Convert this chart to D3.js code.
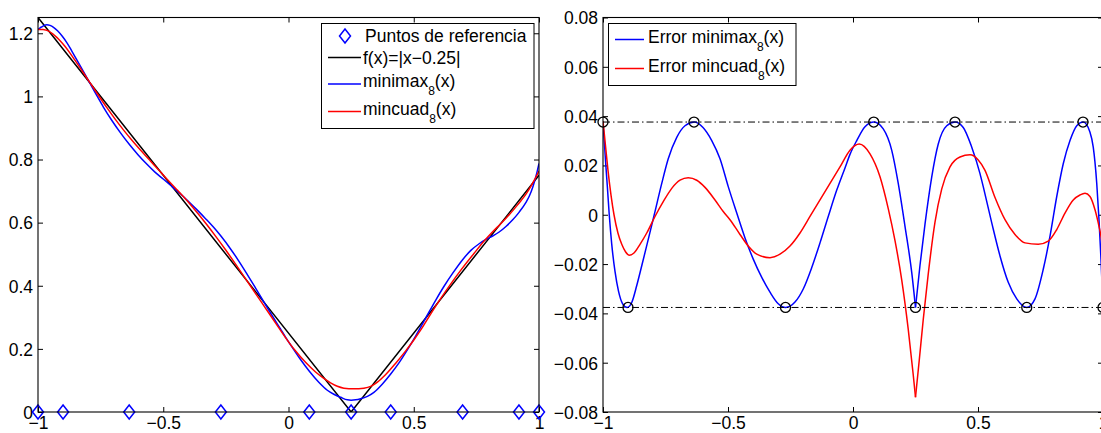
<!DOCTYPE html>
<html><head><meta charset="utf-8">
<script src="https://cdn.jsdelivr.net/npm/d3@7"></script>
<style>
body{margin:0;background:#fff;overflow:hidden;}
svg{display:block;font-family:"Liberation Sans",Arial,Helvetica,sans-serif;}
</style></head><body>
<svg id="c" width="1101" height="433"></svg>
<script>
// ---------------- data ----------------
const xTicks = [-1, -0.5, 0, 0.5, 1];
const yTicksLeft = [0, 0.2, 0.4, 0.6, 0.8, 1, 1.2];
const yTicksRight = [-0.08, -0.06, -0.04, -0.02, 0, 0.02, 0.04, 0.06, 0.08];

const fX = [-1, 0.25, 1];
const fY = [1.25, 0, 0.75];

const refX = [-1, -0.90, -0.636, -0.27, 0.083, 0.25, 0.408, 0.695, 0.92, 1];
const refY = [0, 0, 0, 0, 0, 0, 0, 0, 0, 0];
const refErr = [0.0376, -0.0376, 0.0376, -0.0376, 0.0376, -0.0376, 0.0376, -0.0376, 0.0376, -0.0376];
const levelLines = [0.0376, -0.0376];

const minimaxX = [-1, -0.995, -0.99, -0.983, -0.975, -0.965, -0.952, -0.938, -0.922, -0.903, -0.885, -0.865, -0.845, -0.819, -0.795, -0.765, -0.739, -0.705, -0.672, -0.635, -0.6, -0.565, -0.532, -0.499, -0.465, -0.432, -0.399, -0.365, -0.332, -0.299, -0.269, -0.232, -0.199, -0.165, -0.132, -0.099, -0.065, -0.032, -0.012, 0.015, 0.048, 0.084, 0.121, 0.155, 0.181, 0.208, 0.235, 0.25, 0.268, 0.288, 0.315, 0.341, 0.375, 0.408, 0.441, 0.475, 0.508, 0.521, 0.555, 0.588, 0.621, 0.655, 0.695, 0.728, 0.761, 0.788, 0.815, 0.841, 0.868, 0.895, 0.921, 0.948, 0.961, 0.975, 0.984, 0.992, 1];
const minimaxY = [1.2124, 1.215, 1.218, 1.221, 1.225, 1.227, 1.225, 1.219, 1.208, 1.1906, 1.1706, 1.1437, 1.1157, 1.079, 1.045, 1.0023, 0.9663, 0.9236, 0.8859, 0.8474, 0.8146, 0.7849, 0.7593, 0.7376, 0.7143, 0.6914, 0.667, 0.6404, 0.6134, 0.5851, 0.5566, 0.5174, 0.4791, 0.4364, 0.3934, 0.3497, 0.305, 0.263, 0.2375, 0.2049, 0.1663, 0.1284, 0.0942, 0.0689, 0.0563, 0.0467, 0.0385, 0.0376, 0.0385, 0.0418, 0.0496, 0.0623, 0.0889, 0.1204, 0.1556, 0.1976, 0.2413, 0.2596, 0.3083, 0.3547, 0.3984, 0.4391, 0.4826, 0.5121, 0.5331, 0.5467, 0.5576, 0.5703, 0.5879, 0.6089, 0.6334, 0.6645, 0.6836, 0.7123, 0.736, 0.760, 0.7876];
const errMinimaxY = [0.0376, 0.030, 0.022, 0.012, 0, -0.012, -0.023, -0.031, -0.036, -0.0376, -0.0356, -0.0287, -0.0207, -0.0100, 0, 0.0127, 0.0227, 0.0314, 0.0361, 0.0376, 0.0354, 0.0301, 0.0227, 0.0114, 0.0007, -0.0094, -0.0180, -0.0254, -0.0314, -0.0361, -0.0376, -0.0354, -0.0301, -0.0214, -0.0114, -0.0007, 0.0100, 0.019, 0.0245, 0.0301, 0.0357, 0.0376, 0.0348, 0.0261, 0.0127, -0.0047, -0.0235, -0.0376, -0.0205, -0.0038, 0.0154, 0.0287, 0.0361, 0.0376, 0.0354, 0.0274, 0.0167, 0.0114, -0.0033, -0.0167, -0.0274, -0.0341, -0.0376, -0.0341, -0.0221, -0.0087, 0.0074, 0.0207, 0.0301, 0.0361, 0.0376, 0.0335, 0.0274, 0.0127, -0.002, -0.018, -0.0376];

const mincuadX = [-1, -0.99, -0.98, -0.968, -0.956, -0.94, -0.925, -0.91, -0.895, -0.875, -0.852, -0.825, -0.792, -0.759, -0.725, -0.692, -0.659, -0.625, -0.592, -0.552, -0.519, -0.492, -0.452, -0.419, -0.385, -0.332, -0.292, -0.252, -0.212, -0.172, -0.132, -0.092, -0.052, -0.012, 0.025, 0.068, 0.108, 0.141, 0.168, 0.195, 0.221, 0.241, 0.25, 0.265, 0.281, 0.301, 0.328, 0.355, 0.388, 0.428, 0.468, 0.501, 0.528, 0.568, 0.608, 0.648, 0.688, 0.741, 0.781, 0.815, 0.848, 0.881, 0.908, 0.928, 0.948, 0.968, 0.984, 0.992, 1];
const mincuadY = [1.212, 1.212, 1.212, 1.21, 1.206, 1.1975, 1.187, 1.175, 1.1614, 1.1404, 1.114, 1.0824, 1.0427, 1.0037, 0.9643, 0.928, 0.894, 0.861, 0.8309, 0.796, 0.7677, 0.744, 0.710, 0.6817, 0.651, 0.5994, 0.558, 0.5147, 0.4694, 0.4227, 0.376, 0.3293, 0.2826, 0.2358, 0.1963, 0.1573, 0.1266, 0.1065, 0.0925, 0.0815, 0.0755, 0.074, 0.074, 0.074, 0.0735, 0.075, 0.081, 0.0945, 0.1186, 0.1546, 0.1937, 0.2288, 0.260, 0.311, 0.360, 0.406, 0.4494, 0.503, 0.5417, 0.571, 0.5973, 0.625, 0.650, 0.6693, 0.6906, 0.716, 0.7387, 0.7507, 0.764];
const errMincuadY = [0.038, 0.028, 0.018, 0.008, 0, -0.0075, -0.012, -0.015, -0.0164, -0.0154, -0.012, -0.0074, -0.0007, 0.0053, 0.0107, 0.014, 0.015, 0.014, 0.0111, 0.006, 0.0013, -0.002, -0.008, -0.0127, -0.016, -0.0174, -0.016, -0.0127, -0.0074, -0.0007, 0.006, 0.0127, 0.0194, 0.0262, 0.0287, 0.0247, 0.0154, 0.0025, -0.0105, -0.0265, -0.0465, -0.065, -0.074, -0.059, -0.0425, -0.024, -0.003, 0.0105, 0.0194, 0.0234, 0.0243, 0.0222, 0.018, 0.007, -0.002, -0.008, -0.0114, -0.012, -0.0107, -0.006, 0.0007, 0.006, 0.008, 0.0087, 0.0074, 0.002, -0.0047, -0.0087, -0.014];

const cuspX = 0.25;

// ---------------- layout ----------------
const FS = 17.5;
const TOP = 17.5, BOT = 412;
const svg = d3.select("#c");

const xL = d3.scaleLinear().domain([-1, 1]).range([38, 539]);
const yL = d3.scaleLinear().domain([0, 1.25]).range([BOT, TOP]);
const xR = d3.scaleLinear().domain([-1, 1]).range([603, 1103]);
const yR = d3.scaleLinear().domain([-0.08, 0.08]).range([BOT, TOP]);

const fmt = d => String(d).replace("-", "\u2212");

function frame(x, y, yTicks, id) {
  const [x0, x1] = x.range();
  const [y0, y1] = y.range();
  const g = svg.append("g");
  g.append("rect").attr("x", x0).attr("y", y1).attr("width", x1 - x0).attr("height", y0 - y1)
    .attr("fill", "#fff").attr("stroke", "none");
  const style = sel => {
    sel.attr("font-size", FS).attr("font-family", null);
    sel.select(".domain").remove();
    sel.selectAll("line").attr("stroke", "#000").attr("stroke-width", 1);
    sel.selectAll("text").attr("fill", "#000");
  };
  g.append("g").attr("transform", `translate(0,${y0})`)
    .call(d3.axisBottom(x).tickValues(xTicks).tickSize(-5).tickFormat(fmt))
    .call(style).call(s => s.selectAll("text").attr("y", 16.5).attr("dy", null));
  g.append("g").attr("transform", `translate(0,${y1})`)
    .call(d3.axisTop(x).tickValues(xTicks).tickSize(-5).tickFormat(""))
    .call(style);
  g.append("g").attr("transform", `translate(${x0},0)`)
    .call(d3.axisLeft(y).tickValues(yTicks).tickSize(-5).tickFormat(fmt))
    .call(style).call(s => s.selectAll("text").attr("x", -5).attr("dy", "0.36em"));
  g.append("g").attr("transform", `translate(${x1},0)`)
    .call(d3.axisRight(y).tickValues(yTicks).tickSize(-5).tickFormat(""))
    .call(style);
  svg.append("clipPath").attr("id", id).append("rect")
    .attr("x", x0).attr("y", y1).attr("width", x1 - x0).attr("height", y0 - y1);
  return g;
}

function curve(g, x, y, xs, ys, color, clip, splitAt) {
  const pts = xs.map((v, i) => [v, ys[i]]);
  const segs = splitAt == null ? [pts] :
    [pts.filter(p => p[0] <= splitAt), pts.filter(p => p[0] >= splitAt)];
  const line = d3.line().x(d => x(d[0])).y(d => y(d[1])).curve(d3.curveMonotoneX);
  segs.forEach(s => g.append("path").attr("d", line(s)).attr("fill", "none")
    .attr("stroke", color).attr("stroke-width", 1.5).attr("stroke-linejoin", "round")
    .attr("clip-path", `url(#${clip})`));
}

function boxOutline(x, y) {
  const [x0, x1] = x.range();
  const [y0, y1] = y.range();
  svg.append("rect").attr("x", x0).attr("y", y1).attr("width", x1 - x0).attr("height", y0 - y1)
    .attr("fill", "none").attr("stroke", "#000").attr("stroke-width", 1.1);
}

const diamond = "M0,-7L5.5,0L0,7L-5.5,0Z";

// ---------- left panel ----------
frame(xL, yL, yTicksLeft, "clipL");
const dL = svg.append("g");
dL.append("path").attr("d", d3.line().x((d, i) => xL(fX[i])).y((d, i) => yL(fY[i]))(fX))
  .attr("fill", "none").attr("stroke", "#000").attr("stroke-width", 1.5).attr("clip-path", "url(#clipL)");
curve(dL, xL, yL, minimaxX, minimaxY, "#0000ff", "clipL", null);
curve(dL, xL, yL, mincuadX, mincuadY, "#ff0000", "clipL", null);
boxOutline(xL, yL);
dL.selectAll("path.ref").data(refX).join("path").attr("class", "ref")
  .attr("transform", (d, i) => `translate(${xL(d)},${yL(refY[i])})`)
  .attr("d", diamond).attr("fill", "none").attr("stroke", "#0000ff").attr("stroke-width", 1.5);

// ---------- right panel ----------
frame(xR, yR, yTicksRight, "clipR");
const dR = svg.append("g");
curve(dR, xR, yR, minimaxX, errMinimaxY, "#0000ff", "clipR", cuspX);
curve(dR, xR, yR, mincuadX, errMincuadY, "#ff0000", "clipR", cuspX);
dR.selectAll("line.lvl").data(levelLines).join("line").attr("class", "lvl")
  .attr("x1", xR(-1)).attr("x2", xR(1)).attr("y1", d => yR(d)).attr("y2", d => yR(d))
  .attr("stroke", "#000").attr("stroke-width", 1).attr("stroke-dasharray", "7,3,1.5,3");
boxOutline(xR, yR);
dR.selectAll("circle").data(refX).join("circle")
  .attr("cx", d => xR(d)).attr("cy", (d, i) => yR(refErr[i])).attr("r", 5)
  .attr("fill", "none").attr("stroke", "#000").attr("stroke-width", 1.3);

// ---------- legends ----------
function legendText(g, x, y, main, sub, tail) {
  const t = g.append("text").attr("x", x).attr("y", y).attr("font-size", FS).attr("fill", "#000");
  t.append("tspan").text(main);
  if (sub) {
    t.append("tspan").attr("font-size", 12).attr("dy", 8).text(sub);
    t.append("tspan").attr("font-size", FS).attr("dy", -8).text(tail);
  }
}
const lgL = svg.append("g");
lgL.append("rect").attr("x", 321.5).attr("y", 23.5).attr("width", 212.5).attr("height", 105)
  .attr("fill", "#fff").attr("stroke", "#000").attr("stroke-width", 1);
lgL.append("path").attr("d", diamond).attr("transform", "translate(345,36)")
  .attr("fill", "none").attr("stroke", "#0000ff").attr("stroke-width", 1.5);
legendText(lgL, 365, 42, "Puntos de referencia");
lgL.append("line").attr("x1", 328).attr("x2", 361).attr("y1", 57.5).attr("y2", 57.5).attr("stroke", "#000").attr("stroke-width", 1.5);
legendText(lgL, 363, 63.5, "f(x)=|x\u22120.25|");
lgL.append("line").attr("x1", 328).attr("x2", 361).attr("y1", 84).attr("y2", 84).attr("stroke", "#0000ff").attr("stroke-width", 1.5);
legendText(lgL, 363, 87, "minimax", "8", "(x)");
lgL.append("line").attr("x1", 328).attr("x2", 361).attr("y1", 111.5).attr("y2", 111.5).attr("stroke", "#ff0000").attr("stroke-width", 1.5);
legendText(lgL, 363, 115, "mincuad", "8", "(x)");

const lgR = svg.append("g");
lgR.append("rect").attr("x", 608.5).attr("y", 23.5).attr("width", 187.5).attr("height", 62)
  .attr("fill", "#fff").attr("stroke", "#000").attr("stroke-width", 1);
lgR.append("line").attr("x1", 615).attr("x2", 644).attr("y1", 39.5).attr("y2", 39.5).attr("stroke", "#0000ff").attr("stroke-width", 1.5);
legendText(lgR, 648, 43, "Error minimax", "8", "(x)");
lgR.append("line").attr("x1", 615).attr("x2", 644).attr("y1", 68.5).attr("y2", 68.5).attr("stroke", "#ff0000").attr("stroke-width", 1.5);
legendText(lgR, 648, 72, "Error mincuad", "8", "(x)");
</script>
</body></html>
